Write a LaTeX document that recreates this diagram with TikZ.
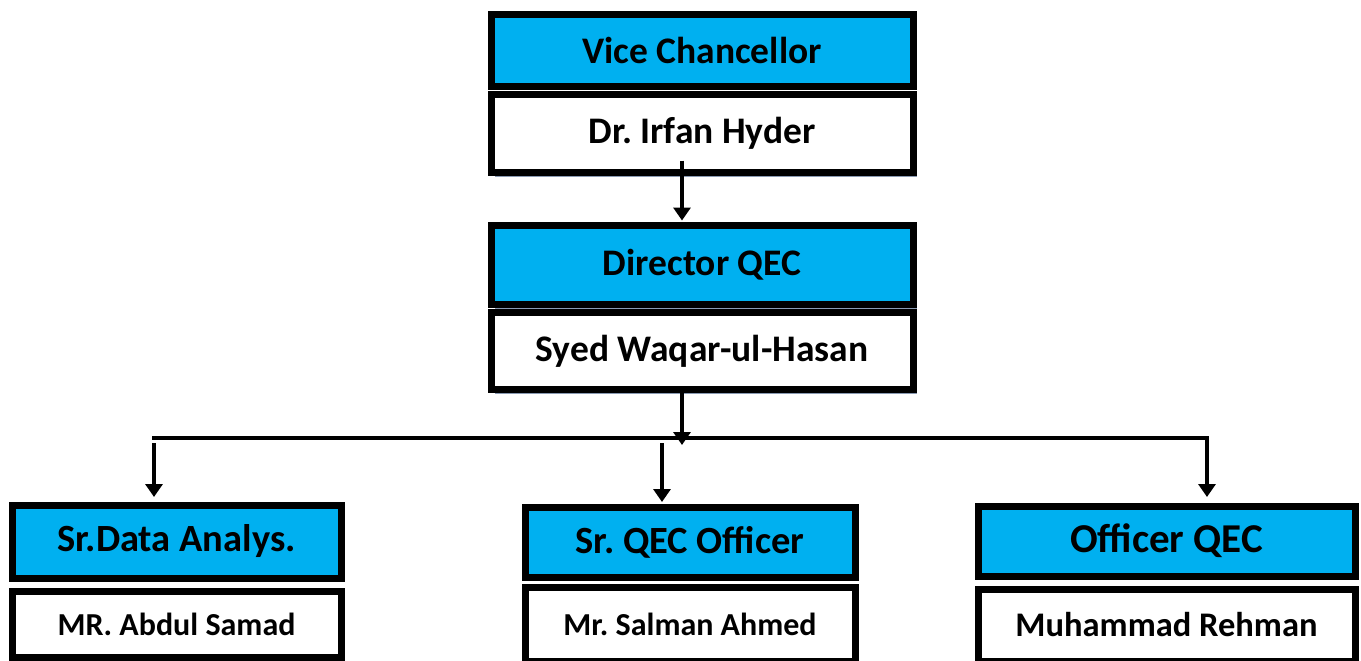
\documentclass[tikz,border=0pt]{standalone}
\usepackage{fontspec}
\setmainfont{Carlito}
\usepackage{xcolor}
\usetikzlibrary{arrows.meta, shadows}
\definecolor{roleblue}{HTML}{00B0F0}
\definecolor{shadowgray}{HTML}{8A9AB2}
\frenchspacing

\begin{document}
\begin{tikzpicture}[x=1pt, y=-1pt]
\useasboundingbox (0,0) rectangle (1361,661);
\begin{scope}[every node/.style={draw, line width=7pt, inner sep=0pt, outer sep=0pt,
              font=\bfseries\fontsize{37.5}{42}\selectfont,
              drop shadow={shadow xshift=4pt, shadow yshift=-4pt, fill=shadowgray, opacity=1}}]
  \node[fill=roleblue, minimum width=422pt, minimum height=72pt] (vc) at (702,50.5) {Vice Chancellor};
    \node[fill=white, minimum width=422pt, minimum height=78pt] (vcname) at (702,133.5) {Dr. Irfan Hyder};
  \node[fill=roleblue, minimum width=422pt, minimum height=79pt] (dir) at (702,265) {Director QEC};
    \node[fill=white, minimum width=422pt, minimum height=77pt] (dirname) at (702,351) {Syed Waqar-ul-Hasan};
  \node[fill=roleblue, minimum width=329pt, minimum height=73pt, font=\bfseries\fontsize{38.5}{44}\selectfont] (sda) at (176.5,541.5) {Sr.Data Analys.};
    \node[fill=white, minimum width=329pt, minimum height=66pt, font=\bfseries\fontsize{32}{37}\selectfont] (sdaname) at (176.5,624) {MR. Abdul Samad};
  \node[fill=roleblue, minimum width=330pt, minimum height=70pt, font=\bfseries\fontsize{38.5}{44}\selectfont] (qec) at (690,542) {Sr. QEC Officer};
    \node[fill=white, minimum width=330pt, minimum height=74pt, font=\bfseries\fontsize{32}{37}\selectfont] (qecname) at (690,624) {Mr. Salman Ahmed};
  \node[fill=roleblue, minimum width=377pt, minimum height=70pt, font=\bfseries\fontsize{41}{46}\selectfont] (off) at (1166.5,541) {Officer QEC};
    \node[fill=white, minimum width=377pt, minimum height=72pt, font=\bfseries\fontsize{34.5}{40}\selectfont] (offname) at (1166.5,625) {Muhammad Rehman};
\end{scope}

\coordinate (hub) at (682,445);
\coordinate (lft) at (152,438);
\coordinate (sdatop) at ([xshift=-22.5pt]sda.north);
\coordinate (qectop) at ([xshift=-28pt]qec.north);
\coordinate (offtop) at ([xshift=40.5pt]off.north);

\begin{scope}[>={Triangle[length=13pt,width=17pt]},
              every edge/.style={draw=black, line width=3.5pt}]
    \path [->] ([xshift=-20pt,yshift=12pt]vcname.south) edge[shorten >=5pt] ([xshift=-20pt]dir.north);
    \path [->] ([xshift=-20pt]dirname.south) edge (hub);
    %\path [->] (lft) edge (sdatop);
    \draw [->, line width=3.5pt, shorten >=9pt] (lft) -| (offtop);
    \path [->] (sdatop |- lft) ++(0,5) edge[shorten >=8pt] (sdatop);
    \path [->] (qectop |- lft) ++(0,5) edge[shorten >=5pt] (qectop);
\end{scope}

\end{tikzpicture}
\end{document}
